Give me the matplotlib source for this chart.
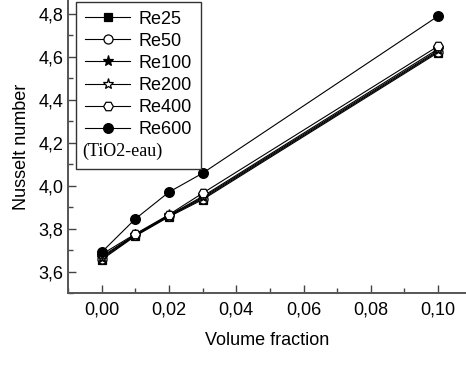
import numpy as np
import matplotlib
matplotlib.use('Agg')
import matplotlib.pyplot as plt
from matplotlib.ticker import MultipleLocator, FuncFormatter

plt.rcParams['font.family'] = ['Liberation Sans', 'DejaVu Sans']

# Data
phi = [0.00, 0.01, 0.02, 0.03, 0.10]
labels = ['Re25', 'Re50', 'Re100', 'Re200', 'Re400', 'Re600']
nu_re25 = [3.655, 3.765, 3.855, 3.935, 4.620]
nu_re50 = [3.660, 3.768, 3.858, 3.940, 4.625]
nu_re100 = [3.665, 3.770, 3.860, 3.945, 4.630]
nu_re200 = [3.670, 3.772, 3.862, 3.950, 4.637]
nu_re400 = [3.680, 3.775, 3.865, 3.965, 4.650]
nu_re600 = [3.690, 3.845, 3.970, 4.058, 4.790]
series = [nu_re25, nu_re50, nu_re100, nu_re200, nu_re400, nu_re600]

markers = ['s', 'o', '*', '*', 'H', 'o']
faces = ['black', 'white', 'black', 'white', 'white', 'black']
msizes = [5.5, 6.5, 8, 8, 7, 7]

fig = plt.figure(figsize=(4.66, 3.68), dpi=100)
ax = fig.add_axes([68/466, 75/368, 398/466, 293/368])

for y, lab, m, fc, ms in zip(series, labels, markers, faces, msizes):
    ax.plot(phi, y, color='black', lw=0.8, marker=m, mfc=fc, mec='black',
            mew=0.9, ms=ms, label=lab)

# blank entry for the fluid note
ax.plot([], [], color='none', label=' ')

ax.set_xlim(-0.01, 0.1083)
ax.set_ylim(3.5, 4.865)
ax.xaxis.set_major_locator(MultipleLocator(0.02))
ax.xaxis.set_minor_locator(MultipleLocator(0.01))
ax.yaxis.set_major_locator(MultipleLocator(0.2))
ax.yaxis.set_minor_locator(MultipleLocator(0.1))
ax.xaxis.set_major_formatter(FuncFormatter(lambda v, p: f'{v:.2f}'.replace('.', ',')))
ax.yaxis.set_major_formatter(FuncFormatter(lambda v, p: f'{v:.1f}'.replace('.', ',')))
ax.tick_params(which='both', direction='in', labelsize=13, color='#444444')
ax.tick_params(which='major', length=6, width=1)
ax.tick_params(which='minor', length=3.5, width=1)
ax.tick_params(axis='x', pad=6)
for s in ['top', 'right']:
    ax.spines[s].set_visible(False)
for s in ['left', 'bottom']:
    ax.spines[s].set_color('#555555')
    ax.spines[s].set_linewidth(1.4)

ax.set_xlabel('Volume fraction', fontsize=13, labelpad=10)
ax.set_ylabel('Nusselt number', fontsize=13, labelpad=6)

leg = ax.legend(loc='lower left', bbox_to_anchor=(0.02, 0.423), borderaxespad=0,
                fontsize=13, handlelength=2.5, handletextpad=0.45,
                labelspacing=0.28, borderpad=0.5, fancybox=False, framealpha=1)
leg.get_frame().set_edgecolor('#333333')
leg.get_frame().set_linewidth(1.0)
ax.text(0.035, 0.485, '(TiO2-eau)', transform=ax.transAxes, fontsize=13,
        family='Liberation Serif', va='center', ha='left', zorder=10)

fig.savefig('out.png', dpi=100)
